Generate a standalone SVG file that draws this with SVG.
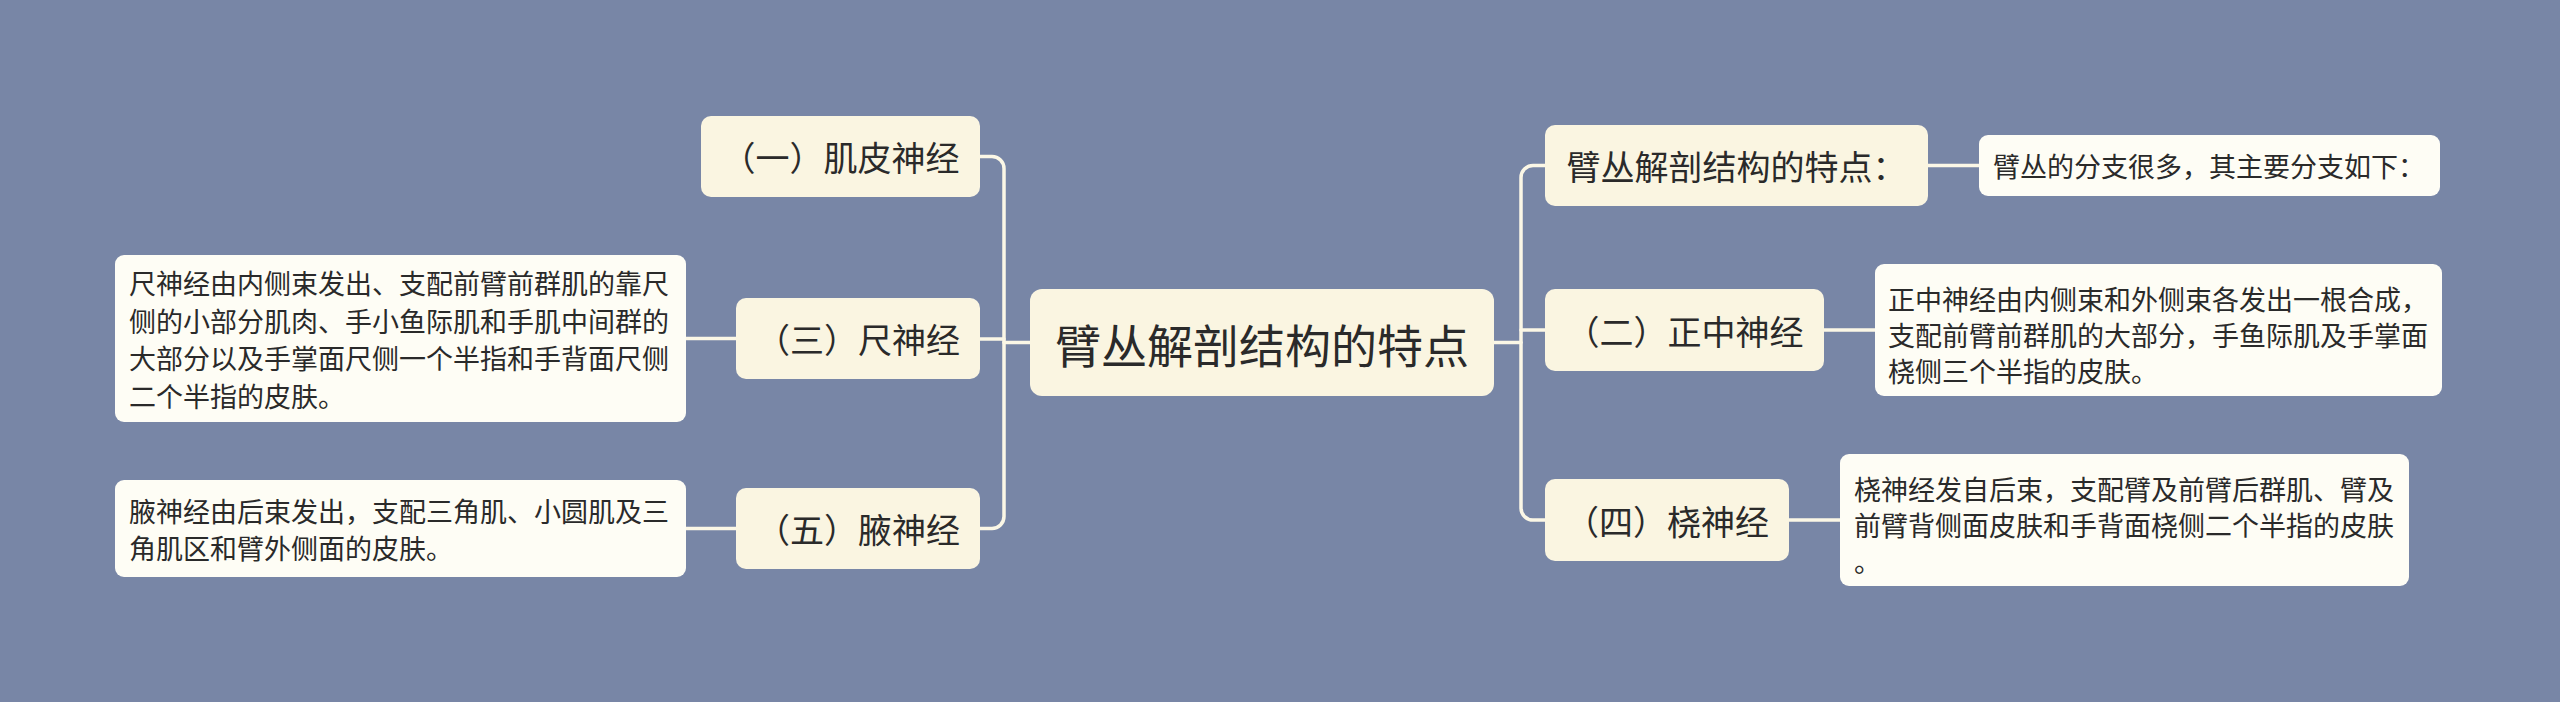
<svg xmlns="http://www.w3.org/2000/svg" width="2560" height="702" viewBox="0 0 2560 702">
  <style>
    .bg { fill: #7886a6; }
    .topic { fill: #faf5e1; }
    .desc { fill: #fefdf5; }
    .conn { fill: none; stroke: #fbf7e6; stroke-width: 3.5; stroke-linecap: round; stroke-linejoin: round; }
    text { font-family: "Noto Sans CJK SC", "Noto Sans", sans-serif; fill: #2a2a2a; dominant-baseline: central; }
    .t-main { font-size: 46px; text-anchor: middle; }
    .t-node { font-size: 34px; text-anchor: middle; }
    .t-desc { font-size: 27px; }
  </style>
  <rect class="bg" x="0" y="0" width="2560" height="702"/>

  <g id="connectors">
    <path class="conn" d="M1030,342.5 H1004"/>
    <path class="conn" d="M980,156.5 H992 A12,12 0 0 1 1004,168.5 V516.5 A12,12 0 0 1 992,528.5 H980"/>
    <path class="conn" d="M980,339 H1004"/>
    <path class="conn" d="M736,338.5 H686"/>
    <path class="conn" d="M736,528.5 H686"/>
    <path class="conn" d="M1494,342.5 H1521"/>
    <path class="conn" d="M1545,165.5 H1533 A12,12 0 0 0 1521,177.5 V508 A12,12 0 0 0 1533,520 H1545"/>
    <path class="conn" d="M1521,330 H1545"/>
    <path class="conn" d="M1928,165.5 H1979"/>
    <path class="conn" d="M1824,330 H1875"/>
    <path class="conn" d="M1789,520 H1840"/>
  </g>

  <g id="root">
    <rect class="topic" x="1030" y="289" width="464" height="107" rx="12"/>
    <text class="t-main" x="1262" y="342.5">臂丛解剖结构的特点</text>
  </g>

  <g id="n1">
    <rect class="topic" x="701" y="116" width="279" height="81" rx="10"/>
    <text class="t-node" x="840.5" y="156.5">（一）肌皮神经</text>
  </g>
  <g id="n3">
    <rect class="topic" x="736" y="298" width="244" height="81" rx="10"/>
    <text class="t-node" x="858" y="338.5">（三）尺神经</text>
  </g>
  <g id="n5">
    <rect class="topic" x="736" y="488" width="244" height="81" rx="10"/>
    <text class="t-node" x="858" y="528.5">（五）腋神经</text>
  </g>

  <g id="d3">
    <rect class="desc" x="115" y="255" width="571" height="167" rx="9"/>
    <text class="t-desc" x="129" y="282.5">尺神经由内侧束发出、支配前臂前群肌的靠尺</text>
    <text class="t-desc" x="129" y="320">侧的小部分肌肉、手小鱼际肌和手肌中间群的</text>
    <text class="t-desc" x="129" y="357.5">大部分以及手掌面尺侧一个半指和手背面尺侧</text>
    <text class="t-desc" x="129" y="395">二个半指的皮肤。</text>
  </g>
  <g id="d5">
    <rect class="desc" x="115" y="480" width="571" height="97" rx="9"/>
    <text class="t-desc" x="129" y="510">腋神经由后束发出，支配三角肌、小圆肌及三</text>
    <text class="t-desc" x="129" y="547">角肌区和臂外侧面的皮肤。</text>
  </g>

  <g id="n0">
    <rect class="topic" x="1545" y="125" width="383" height="81" rx="10"/>
    <text class="t-node" x="1736.5" y="165.5">臂丛解剖结构的特点：</text>
  </g>
  <g id="n2">
    <rect class="topic" x="1545" y="289" width="279" height="82" rx="10"/>
    <text class="t-node" x="1684.5" y="330">（二）正中神经</text>
  </g>
  <g id="n4">
    <rect class="topic" x="1545" y="479" width="244" height="82" rx="10"/>
    <text class="t-node" x="1667" y="520">（四）桡神经</text>
  </g>

  <g id="d0">
    <rect class="desc" x="1979" y="135" width="461" height="61" rx="9"/>
    <text class="t-desc" x="1993" y="165.5">臂丛的分支很多，其主要分支如下：</text>
  </g>
  <g id="d2">
    <rect class="desc" x="1875" y="264" width="567" height="132" rx="9"/>
    <text class="t-desc" x="1888" y="298">正中神经由内侧束和外侧束各发出一根合成，</text>
    <text class="t-desc" x="1888" y="334">支配前臂前群肌的大部分，手鱼际肌及手掌面</text>
    <text class="t-desc" x="1888" y="370">桡侧三个半指的皮肤。</text>
  </g>
  <g id="d4">
    <rect class="desc" x="1840" y="454" width="569" height="132" rx="9"/>
    <text class="t-desc" x="1854" y="488">桡神经发自后束，支配臂及前臂后群肌、臂及</text>
    <text class="t-desc" x="1854" y="524">前臂背侧面皮肤和手背面桡侧二个半指的皮肤</text>
    <text class="t-desc" x="1854" y="560">。</text>
  </g>
</svg>
